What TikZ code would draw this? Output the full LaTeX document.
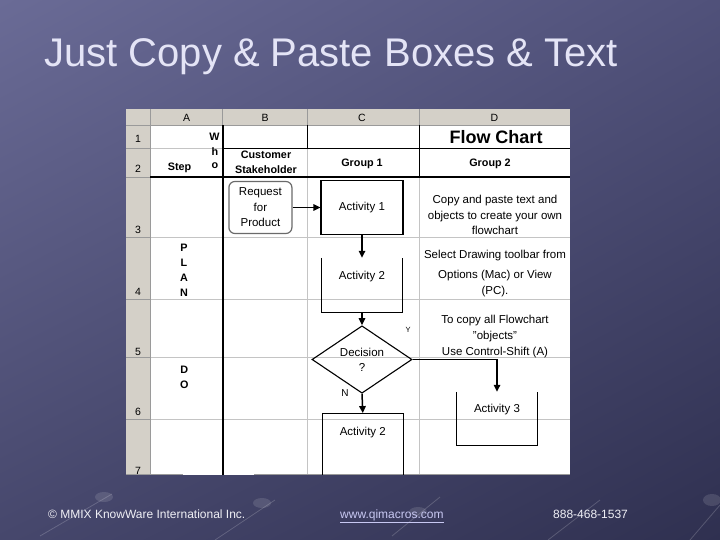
\documentclass[tikz,border=0pt]{standalone}
\usepackage{fontspec}
\setmainfont{Liberation Sans}
\usetikzlibrary{shapes.geometric,arrows.meta,calc,shadings}
\definecolor{bgUL}{HTML}{6A6B96}
\definecolor{bgUR}{HTML}{50517A}
\definecolor{bgLL}{HTML}{46476C}
\definecolor{bgLR}{HTML}{2F3050}
\definecolor{titlecol}{HTML}{E4E4F6}
\definecolor{footcol}{HTML}{F0F0F6}
\definecolor{linkcol}{HTML}{C8C8F2}
\definecolor{hdrgray}{HTML}{D4D0C8}
\definecolor{hdrline}{HTML}{9A9A9A}
\definecolor{gridgray}{HTML}{C4C4C4}
\definecolor{reqline}{HTML}{6A6A6A}
\begin{document}
\begin{tikzpicture}[x=1pt,y=-1pt,
  celltxt/.style={inner sep=0pt, align=center, font=\fontsize{11.5}{15.5}\selectfont},
  boldtxt/.style={inner sep=0pt, align=center, font=\bfseries\fontsize{10.8}{15}\selectfont},
  hdrtxt/.style={inner sep=0pt, font=\fontsize{10.5}{12}\selectfont},
  gridln/.style={draw=gridgray, line width=0.7pt},
  hdrln/.style={draw=hdrline, line width=0.7pt},
  thickln/.style={draw=black, line width=1.8pt},
  boxln/.style={draw=black, line width=1.1pt},
  openbox/.style={draw=none, inner sep=0pt},
  arr/.style={draw=black, line width=1.5pt, -{Triangle[length=7pt,width=6.5pt]}},
  footer/.style={anchor=base west, inner sep=0pt, font=\fontsize{12}{14}\selectfont},
  deco/.style={draw=white, opacity=0.18, line width=0.8pt}
]
\useasboundingbox (0,0) rectangle (720,540);
\shade[upper left=bgUL, upper right=bgUR, lower left=bgLL, lower right=bgLR] (0,0) rectangle (720,540);
% faint background decoration
\draw[deco] (40,536) -- (112,494);
\draw[deco] (215,540) -- (275,500);
\draw[deco] (392,536) -- (440,497);
\draw[deco] (548,540) -- (600,500);
\draw[deco] (690,540) -- (720,505);
\fill[white, opacity=0.12] (104,497) ellipse (9 and 5);
\fill[white, opacity=0.12] (262,503) ellipse (9 and 5);
\fill[white, opacity=0.12] (418,512) ellipse (9 and 5);
\fill[white, opacity=0.12] (712,500) ellipse (9 and 6);

% title
\node[anchor=base west, inner sep=0pt, font=\fontsize{40}{48}\selectfont, text=titlecol] (title) at (44,67) {Just Copy \& Paste Boxes \& Text};

% spreadsheet body
\fill[white] (126,109) rectangle (570,475);
\fill[hdrgray] (126,109) rectangle (570,125);
\fill[hdrgray] (126,125) rectangle (150,475);
\foreach \y in {148,237,299,357,419} \draw[gridln] (150,\y) -- (570,\y);
\foreach \x in {307,419} \draw[gridln] (\x,148) -- (\x,475);
\foreach \y in {125,148,177,237,299,357,419} \draw[hdrln] (126,\y) -- (150,\y);
\foreach \x in {150,222.7,307,419} \draw[hdrln] (\x,109) -- (\x,125);
\draw[hdrln] (150,125) -- (570,125);
\draw[hdrln] (150,125) -- (150,475);
\draw[thickln] (222.7,125) -- (222.7,475);
\draw[thickln] (150,177) -- (570,177);
\draw[draw=black, line width=0.8pt] (222.7,148) -- (570,148);
\draw[draw=black, line width=1pt] (307,125) -- (307,148);
\draw[draw=black, line width=1pt] (419,125) -- (419,177);
\draw[hdrln] (126,474.5) -- (183,474.5);
\draw[hdrln] (254,474.5) -- (570,474.5);

% column and row headers
\node[hdrtxt] (colA) at (186.5,117.5) {A};
\node[hdrtxt] (colB) at (265,117.5) {B};
\node[hdrtxt] (colC) at (362,117.5) {C};
\node[hdrtxt] (colD) at (494.5,117.5) {D};
\node[hdrtxt] (row1) at (138,139) {1};
\node[hdrtxt] (row2) at (138,169) {2};
\node[hdrtxt] (row3) at (138,230) {3};
\node[hdrtxt] (row4) at (138,291.5) {4};
\node[hdrtxt] (row5) at (138,351.5) {5};
\node[hdrtxt] (row6) at (138,411.5) {6};
\node[hdrtxt] (row7) at (138,471) {7};

% header cells
\node[boldtxt] (w1) at (214.5,136.5) {W};
\node[boldtxt] (w2) at (215,151.5) {h};
\node[boldtxt] (w3) at (215,166) {o};
\node[boldtxt] (step) at (179.5,167.5) {Step};
\node[boldtxt] (cust) at (266,162) {Customer\\Stakeholder};
\node[boldtxt] (g1) at (362,164) {Group 1};
\node[boldtxt] (g2) at (490,164) {Group 2};
\node[inner sep=0pt, font=\bfseries\fontsize{18}{20}\selectfont] (fc) at (496,137) {Flow Chart};
\node[boldtxt] (plan) at (184,270) {P\\L\\A\\N};
\node[boldtxt] (do) at (184.3,377.8) {D\\O};

% flowchart shapes
\node[draw=reqline, line width=1.2pt, rounded corners=6pt, minimum width=63pt, minimum height=52pt, celltxt] (req) at (260.4,207.5) {Request\\for\\Product};
\node[boxln, minimum width=82pt, minimum height=54pt, celltxt] (act1) at (362,207.5) {Activity 1};
\node[openbox, minimum width=80pt, minimum height=54pt] (act2) at (362,285) {};
\draw[boxln] (act2.north west) -- (act2.south west) -- (act2.south east) -- (act2.north east);
\node[celltxt] (act2t) at (362,277) {Activity 2};
\node[diamond, draw=black, line width=1.1pt, minimum width=100pt, minimum height=65pt, inner sep=0pt, celltxt, font=\fontsize{11.5}{15}\selectfont] (dec) at (362,359.5) {Decision\\?};
\node[openbox, minimum width=81pt, minimum height=53pt] (act3) at (497,418.5) {};
\draw[boxln] (act3.north west) -- (act3.south west) -- (act3.south east) -- (act3.north east);
\node[celltxt] (act3t) at (497,410) {Activity 3};
\node[openbox, minimum width=81pt, minimum height=61pt] (act2b) at (362.8,443.8) {};
\draw[boxln] (act2b.south west) -- (act2b.north west) -- (act2b.north east) -- (act2b.south east);
\node[celltxt] (act2bt) at (362.8,433) {Activity 2};

% connectors
\draw[arr] (req.east) -- (act1.west);
\draw[arr] (act1.south) -- (act2.north);
\draw[arr] (act2.south) -- (dec.north);
\draw[arr] (dec.east) -| (act3.north);
\draw[arr] (dec.south) -- (act2b.north);
\node[inner sep=0pt, font=\fontsize{7.5}{9}\selectfont] (ylab) at (408,330) {Y};
\node[inner sep=0pt, font=\fontsize{10}{12}\selectfont] (nlab) at (345,393) {N};

% notes in column D
\node[celltxt] (note1) at (495,215) {Copy and paste text and\\objects to create your own\\flowchart};
\node[celltxt] (note2a) at (495,256) {Select Drawing toolbar from};
\node[celltxt] (note2b) at (495,275.5) {Options (Mac) or View};
\node[celltxt] (note2c) at (495,292) {(PC).};
\node[celltxt, font=\fontsize{11.5}{16}\selectfont] (note3) at (495,337) {To copy all Flowchart\\\symbol{34}objects\symbol{34}\\Use Control-Shift (A)};

% footer
\node[footer, text=footcol] (copy) at (48,518) {© MMIX KnowWare International Inc.};
\node[footer, text=linkcol] (url) at (340,518) {\underline{www.qimacros.com}};
\node[footer, text=footcol] (phone) at (553,518) {888-468-1537};
\end{tikzpicture}
\end{document}
